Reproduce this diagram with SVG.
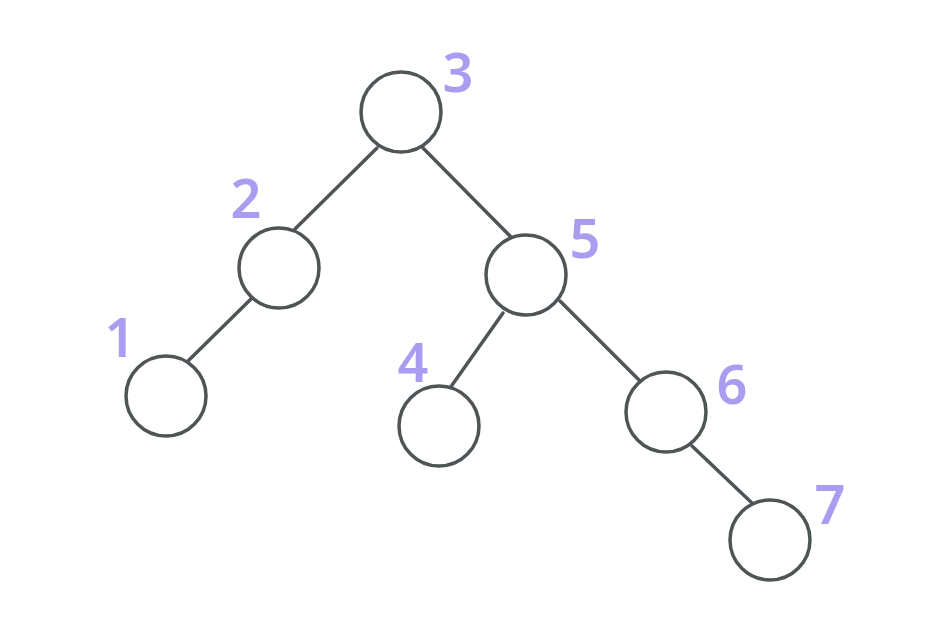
<svg xmlns="http://www.w3.org/2000/svg" width="931" height="622" viewBox="0 0 931 622">
<style>
.e{stroke:#4f5456;stroke-width:3.5;fill:none;stroke-linecap:round}
.n{stroke:#4f5456;stroke-width:3.5;fill:#ffffff}
.l{fill:#a99df2;font-family:"Noto Sans","DejaVu Sans",sans-serif;font-size:54px;font-weight:600;text-anchor:middle}
</style>
<rect width="931" height="622" fill="#ffffff"/>
<g id="edges">
<line class="e" x1="377" y1="148" x2="295" y2="229"/>
<line class="e" x1="423" y1="148" x2="512" y2="238"/>
<line class="e" x1="251" y1="299" x2="188" y2="361"/>
<line class="e" x1="503" y1="313" x2="450" y2="388"/>
<line class="e" x1="560" y1="301" x2="640" y2="381"/>
<line class="e" x1="692" y1="446" x2="753" y2="504"/>
</g>
<g id="n3"><circle class="n" cx="401" cy="112" r="40"/><text class="l" x="458" y="92">3</text></g>
<g id="n2"><circle class="n" cx="279" cy="268" r="40"/><text class="l" x="246" y="218">2</text></g>
<g id="n5"><circle class="n" cx="526" cy="275" r="40"/><text class="l" x="585" y="258">5</text></g>
<g id="n1"><circle class="n" cx="166" cy="396" r="40"/><text class="l" x="120" y="357">1</text></g>
<g id="n4"><circle class="n" cx="439" cy="426" r="40"/><text class="l" x="413" y="382">4</text></g>
<g id="n6"><circle class="n" cx="666" cy="412" r="40"/><text class="l" x="732" y="404">6</text></g>
<g id="n7"><circle class="n" cx="770" cy="540" r="40"/><text class="l" x="830" y="524">7</text></g>
</svg>
